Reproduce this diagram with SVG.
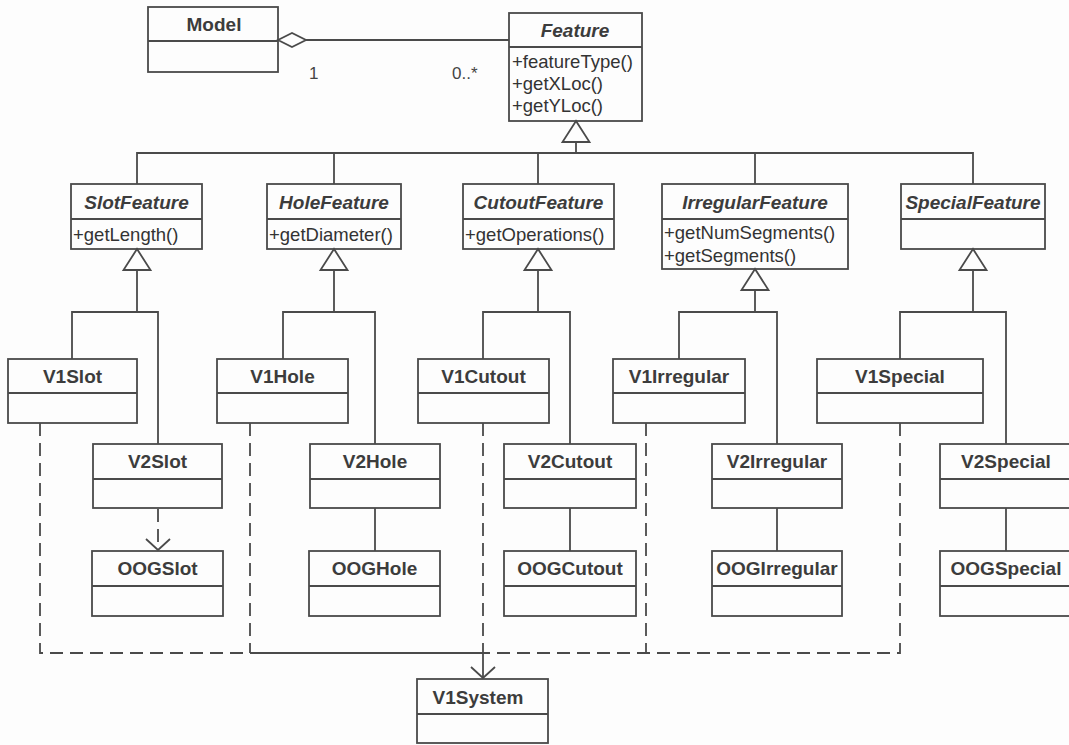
<svg xmlns="http://www.w3.org/2000/svg" width="1069" height="745" viewBox="0 0 1069 745">
<style>
  .box { fill: none; stroke: #4a4a4a; stroke-width: 1.8; }
  .ln { fill: none; stroke: #4a4a4a; stroke-width: 1.8; }
  .dash { fill: none; stroke: #4a4a4a; stroke-width: 1.8; stroke-dasharray: 13 7; }
  .tri { fill: #fdfdfd; stroke: #4a4a4a; stroke-width: 1.8; }
  .title { font-family: "Liberation Sans", Arial, sans-serif; font-size: 19px; font-weight: bold; fill: #3c3c3c; text-anchor: middle; }
  .abs { font-style: italic; }
  .meth { font-family: "Liberation Sans", Arial, sans-serif; font-size: 18.5px; fill: #333; }
  .mult { font-family: "Liberation Sans", Arial, sans-serif; font-size: 17px; fill: #444; }
</style>
<defs>
  <marker id="open" viewBox="0 0 14 26" refX="12" refY="13" markerWidth="14" markerHeight="26" markerUnits="userSpaceOnUse" orient="auto">
    <path d="M1,1 L12,13 L1,25" fill="none" stroke="#4a4a4a" stroke-width="1.8"/>
  </marker>
</defs>
<rect x="0" y="0" width="1069" height="745" fill="#fdfdfd"/>

<g id="connectors">
  <!-- Model - Feature aggregation -->
  <polygon class="tri" points="278,40 292,33 306,40 292,47"/>
  <line class="ln" x1="306" y1="40" x2="509" y2="40"/>
  <text class="mult" x="309" y="79">1</text>
  <text class="mult" x="452" y="79">0..*</text>

  <!-- Feature generalization -->
  <line class="ln" x1="576" y1="142" x2="576" y2="153"/>
  <polyline class="ln" points="137,184 137,153 973,153 973,184"/>
  <line class="ln" x1="334" y1="153" x2="334" y2="184"/>
  <line class="ln" x1="538" y1="153" x2="538" y2="184"/>
  <line class="ln" x1="755" y1="153" x2="755" y2="184"/>
  <polygon class="tri" points="576,121 562.5,142 589.5,142"/>

  <!-- Slot -->
  <line class="ln" x1="137" y1="270" x2="137" y2="312"/>
  <polyline class="ln" points="72,359 72,312 158,312 158,444"/>
  <polygon class="tri" points="137,249 123.5,270 150.5,270"/>
  <line class="dash" x1="158" y1="509" x2="158" y2="550" marker-end="url(#open)"/>

  <!-- Hole -->
  <line class="ln" x1="334" y1="270" x2="334" y2="312"/>
  <polyline class="ln" points="283,359 283,312 375,312 375,444"/>
  <polygon class="tri" points="334,249 320.5,270 347.5,270"/>
  <line class="ln" x1="375" y1="508" x2="375" y2="551"/>

  <!-- Cutout -->
  <line class="ln" x1="538" y1="270" x2="538" y2="312"/>
  <polyline class="ln" points="483,359 483,312 570,312 570,444"/>
  <polygon class="tri" points="538,249 524.5,270 551.5,270"/>
  <line class="ln" x1="570" y1="508" x2="570" y2="551"/>

  <!-- Irregular -->
  <line class="ln" x1="755" y1="290" x2="755" y2="312"/>
  <polyline class="ln" points="679,359 679,312 777,312 777,444"/>
  <polygon class="tri" points="755,269 741.5,290 768.5,290"/>
  <line class="ln" x1="777" y1="508" x2="777" y2="551"/>

  <!-- Special -->
  <line class="ln" x1="973" y1="270" x2="973" y2="312"/>
  <polyline class="ln" points="900,359 900,312 1006,312 1006,444"/>
  <polygon class="tri" points="973,249 959.5,270 986.5,270"/>
  <line class="ln" x1="1006" y1="508" x2="1006" y2="551"/>

  <!-- Dependencies to V1System -->
  <polyline class="dash" points="40,423 40,653 250,653"/>
  <line class="dash" x1="250" y1="423" x2="250" y2="653"/>
  <line class="ln" x1="250" y1="653" x2="483" y2="653"/>
  <line class="dash" x1="483" y1="423" x2="483" y2="653"/>
  <line class="ln" x1="483" y1="653" x2="483" y2="678" marker-end="url(#open)"/>
  <line class="dash" x1="646" y1="423" x2="646" y2="653"/>
  <polyline class="dash" points="900,423 900,653 483,653"/>
</g>

<g id="Model">
  <rect class="box" x="148" y="7" width="130" height="65"/>
  <line class="ln" x1="148" y1="41" x2="278" y2="41"/>
  <text class="title" x="214" y="31">Model</text>
</g>
<g id="Feature">
  <rect class="box" x="509" y="13" width="133" height="108"/>
  <line class="ln" x1="509" y1="47" x2="642" y2="47"/>
  <text class="title abs" x="575" y="37">Feature</text>
  <text class="meth" x="512" y="68">+featureType()</text>
  <text class="meth" x="512" y="90">+getXLoc()</text>
  <text class="meth" x="512" y="112">+getYLoc()</text>
</g>
<g id="SlotFeature">
  <rect class="box" x="71" y="184" width="131" height="65"/>
  <line class="ln" x1="71" y1="219" x2="202" y2="219"/>
  <text class="title abs" x="136.5" y="209">SlotFeature</text>
  <text class="meth" x="73" y="241">+getLength()</text>
</g>
<g id="HoleFeature">
  <rect class="box" x="267" y="184" width="134" height="65"/>
  <line class="ln" x1="267" y1="219" x2="401" y2="219"/>
  <text class="title abs" x="334" y="209">HoleFeature</text>
  <text class="meth" x="269" y="241">+getDiameter()</text>
</g>
<g id="CutoutFeature">
  <rect class="box" x="463" y="184" width="151" height="65"/>
  <line class="ln" x1="463" y1="219" x2="614" y2="219"/>
  <text class="title abs" x="538.5" y="209">CutoutFeature</text>
  <text class="meth" x="465" y="241">+getOperations()</text>
</g>
<g id="IrregularFeature">
  <rect class="box" x="662" y="184" width="186" height="85"/>
  <line class="ln" x1="662" y1="219" x2="848" y2="219"/>
  <text class="title abs" x="755" y="209">IrregularFeature</text>
  <text class="meth" x="664" y="239">+getNumSegments()</text>
  <text class="meth" x="664" y="262">+getSegments()</text>
</g>
<g id="SpecialFeature">
  <rect class="box" x="901" y="184" width="144" height="65"/>
  <line class="ln" x1="901" y1="219" x2="1045" y2="219"/>
  <text class="title abs" x="973" y="209">SpecialFeature</text>
</g>

<g id="V1Slot">
  <rect class="box" x="8" y="359" width="129" height="64"/>
  <line class="ln" x1="8" y1="393" x2="137" y2="393"/>
  <text class="title" x="72.5" y="383">V1Slot</text>
</g>
<g id="V2Slot">
  <rect class="box" x="93" y="444" width="129" height="64"/>
  <line class="ln" x1="93" y1="479" x2="222" y2="479"/>
  <text class="title" x="157.5" y="468">V2Slot</text>
</g>
<g id="OOGSlot">
  <rect class="box" x="92" y="551" width="131" height="65"/>
  <line class="ln" x1="92" y1="586" x2="223" y2="586"/>
  <text class="title" x="157.5" y="575">OOGSlot</text>
</g>

<g id="V1Hole">
  <rect class="box" x="217" y="359" width="131" height="64"/>
  <line class="ln" x1="217" y1="393" x2="348" y2="393"/>
  <text class="title" x="282.5" y="383">V1Hole</text>
</g>
<g id="V2Hole">
  <rect class="box" x="310" y="444" width="130" height="64"/>
  <line class="ln" x1="310" y1="479" x2="440" y2="479"/>
  <text class="title" x="375" y="468">V2Hole</text>
</g>
<g id="OOGHole">
  <rect class="box" x="309" y="551" width="131" height="65"/>
  <line class="ln" x1="309" y1="586" x2="440" y2="586"/>
  <text class="title" x="374.5" y="575">OOGHole</text>
</g>

<g id="V1Cutout">
  <rect class="box" x="418" y="359" width="131" height="64"/>
  <line class="ln" x1="418" y1="393" x2="549" y2="393"/>
  <text class="title" x="483.5" y="383">V1Cutout</text>
</g>
<g id="V2Cutout">
  <rect class="box" x="504" y="444" width="132" height="64"/>
  <line class="ln" x1="504" y1="479" x2="636" y2="479"/>
  <text class="title" x="570" y="468">V2Cutout</text>
</g>
<g id="OOGCutout">
  <rect class="box" x="504" y="551" width="132" height="65"/>
  <line class="ln" x1="504" y1="586" x2="636" y2="586"/>
  <text class="title" x="570" y="575">OOGCutout</text>
</g>

<g id="V1Irregular">
  <rect class="box" x="613" y="359" width="132" height="64"/>
  <line class="ln" x1="613" y1="393" x2="745" y2="393"/>
  <text class="title" x="679" y="383">V1Irregular</text>
</g>
<g id="V2Irregular">
  <rect class="box" x="712" y="444" width="130" height="64"/>
  <line class="ln" x1="712" y1="479" x2="842" y2="479"/>
  <text class="title" x="777" y="468">V2Irregular</text>
</g>
<g id="OOGIrregular">
  <rect class="box" x="712" y="551" width="130" height="65"/>
  <line class="ln" x1="712" y1="586" x2="842" y2="586"/>
  <text class="title" x="777" y="575">OOGIrregular</text>
</g>

<g id="V1Special">
  <rect class="box" x="817" y="359" width="166" height="64"/>
  <line class="ln" x1="817" y1="393" x2="983" y2="393"/>
  <text class="title" x="900" y="383">V1Special</text>
</g>
<g id="V2Special">
  <rect class="box" x="940" y="444" width="132" height="64"/>
  <line class="ln" x1="940" y1="479" x2="1072" y2="479"/>
  <text class="title" x="1006" y="468">V2Special</text>
</g>
<g id="OOGSpecial">
  <rect class="box" x="940" y="551" width="132" height="65"/>
  <line class="ln" x1="940" y1="586" x2="1072" y2="586"/>
  <text class="title" x="1006" y="575">OOGSpecial</text>
</g>

<g id="V1System">
  <rect class="box" x="417" y="679" width="131" height="64"/>
  <line class="ln" x1="417" y1="714" x2="548" y2="714"/>
  <text class="title" x="478" y="704">V1System</text>
</g>
</svg>
